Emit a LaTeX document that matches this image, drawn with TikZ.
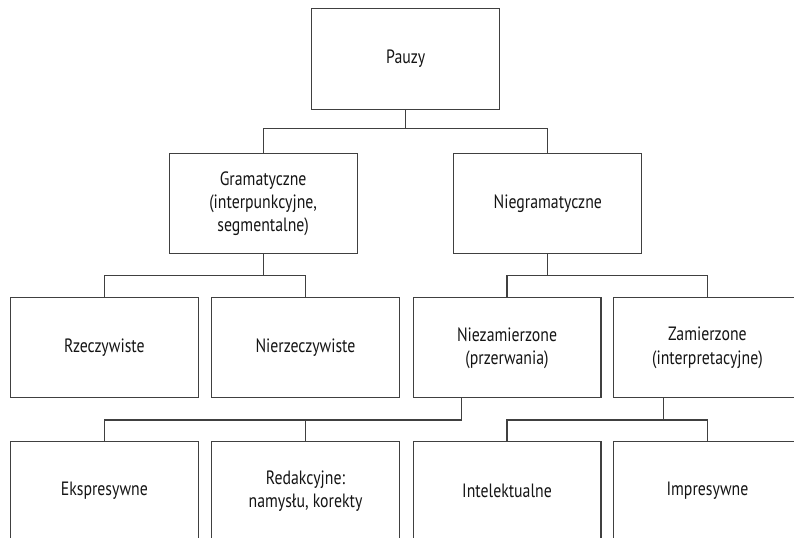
\documentclass[tikz,border=0pt]{standalone}
\usepackage{fontspec}
\setmainfont{PT Sans}[FakeStretch=0.82]
\usepackage{tikz}
\usetikzlibrary{positioning}

\begin{document}
\begin{tikzpicture}[
  box/.style={draw=black!75, line width=0.8pt, minimum width=4.97cm, minimum height=2.65cm,
              align=center, inner sep=2pt, text=black!92},
  link/.style={draw=black!75, line width=0.8pt},
  every node/.style={font=\fontsize{14.5}{17.4}\selectfont}
]
\useasboundingbox (0,0) rectangle (21.0,14.21);
\clip (0,0) rectangle (21.0,14.21);

% --- Top ---
\node[box] (P) at (10.73,12.65) {Pauzy};

% --- Second level ---
\node[box] (G)  at (6.96,8.82)  {Gramatyczne\\(interpunkcyjne,\\segmentalne)};
\node[box] (NG) at (14.49,8.82) {Niegramatyczne};

% --- Third level ---
\node[box] (R)  at (2.76,5.01)  {Rzeczywiste};
\node[box] (NR) at (8.08,5.01)  {Nierzeczywiste};
\node[box] (NZ) at (13.41,5.01) {Niezamierzone\\(przerwania)};
\node[box] (Z)  at (18.71,5.01) {Zamierzone\\(interpretacyjne)};

% --- Bottom level (cut by the page edge) ---
\node[box] (E)   at (2.76,1.22)  {Ekspresywne};
\node[box] (Red) at (8.08,1.22)  {Redakcyjne:\\namysłu, korekty};
\node[box] (I)   at (13.41,1.22) {Intelektualne};
\node[box] (Imp) at (18.71,1.22) {Impresywne};

% --- Connectors ---
\draw[link] (P.south) -- ++(0,-0.5) -| (G.north);
\draw[link] (P.south) ++(0,-0.5) -| (NG.north);

\draw[link] (G.south) -- ++(0,-0.56) -| (R.north);
\draw[link] (G.south) ++(0,-0.56) -| (NR.north);

\draw[link] (NG.south) -- ++(0,-0.56) -| (NZ.north);
\draw[link] (NG.south) ++(0,-0.56) -| (Z.north);

\draw[link] ([xshift=-1.21cm]NZ.south) -- ++(0,-0.57) -| (E.north);
\draw[link] ([xshift=-1.21cm]NZ.south) ++(0,-0.57) -| (Red.north);

\draw[link] ([xshift=-1.17cm]Z.south) -- ++(0,-0.57) -| (I.north);
\draw[link] ([xshift=-1.17cm]Z.south) ++(0,-0.57) -| (Imp.north);

\end{tikzpicture}
\end{document}
